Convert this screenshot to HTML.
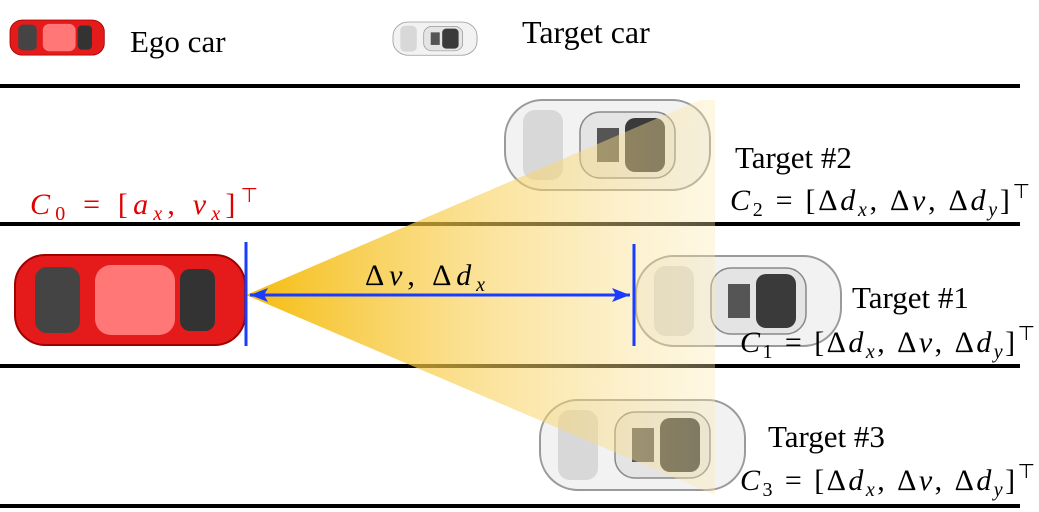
<!DOCTYPE html>
<html><head><meta charset="utf-8"><style>
html,body{margin:0;padding:0;background:#fff;}
svg{display:block;}
text{font-family:"Liberation Serif",serif;}
</style></head><body>
<svg width="1039" height="512" viewBox="0 0 1039 512">
<defs>
<linearGradient id="cone" x1="246" y1="0" x2="715" y2="0" gradientUnits="userSpaceOnUse">
<stop offset="0" stop-color="#f5b800" stop-opacity="0.95"/>
<stop offset="0.5" stop-color="#f8cf55" stop-opacity="0.6"/>
<stop offset="1" stop-color="#fbe9b0" stop-opacity="0.35"/>
</linearGradient>
<marker id="ah" markerWidth="20" markerHeight="16" refX="18" refY="7" orient="auto-start-reverse" markerUnits="userSpaceOnUse"><path d="M0,0 L18,7 L0,14 L4,7 z" fill="#1a3cff"/></marker>
<g id="whitecar">
<rect x="0" y="0" width="205" height="90" rx="38" fill="#f2f2f2" stroke="#9a9a9a" stroke-width="2"/>
<rect x="18" y="10" width="40" height="70" rx="12" fill="#d8d8d8"/>
<rect x="75" y="12" width="95" height="66" rx="20" fill="#e4e4e4" stroke="#888" stroke-width="1.5"/>
<rect x="120" y="18" width="40" height="54" rx="10" fill="#3a3a3a"/>
<rect x="92" y="28" width="22" height="34" fill="#555"/>
</g>
<g id="redcar">
<rect x="0" y="0" width="230" height="90" rx="30" fill="#e51a1a" stroke="#9e0000" stroke-width="2"/>
<rect x="20" y="12" width="45" height="66" rx="12" fill="#444"/>
<rect x="80" y="10" width="80" height="70" rx="16" fill="#ff7777"/>
<rect x="165" y="14" width="35" height="62" rx="10" fill="#333"/>
</g>
</defs>

<g>
<use href="#redcar" transform="translate(10,20) scale(0.41,0.39)"/>
<text x="130" y="52" font-size="31">Ego car</text>
</g>
<g>
<use href="#whitecar" transform="translate(393,22) scale(0.41,0.37)"/>
<text x="522" y="43" font-size="32">Target car</text>
</g>

<g stroke="#000" stroke-width="4">
<line x1="0" y1="86" x2="1020" y2="86"/>
<line x1="0" y1="224" x2="1020" y2="224"/>
<line x1="0" y1="366" x2="1020" y2="366"/>
<line x1="0" y1="506" x2="1020" y2="506"/>
</g>

<use href="#whitecar" transform="translate(505,100)"/>
<use href="#whitecar" transform="translate(636,256)"/>
<use href="#whitecar" transform="translate(540,400)"/>

<path d="M246,295 L700,100 L715,100 L715,495 Z" fill="url(#cone)"/>

<use href="#redcar" transform="translate(15,255)"/>

<line x1="246" y1="242" x2="246" y2="346" stroke="#1a3cff" stroke-width="3"/>
<line x1="634" y1="244" x2="634" y2="346" stroke="#1a3cff" stroke-width="3"/>
<line x1="250" y1="295" x2="630" y2="295" stroke="#1a3cff" stroke-width="3" marker-start="url(#ah)" marker-end="url(#ah)"/>
<text x="365" y="285" font-size="30" textLength="120" lengthAdjust="spacing">Δ<tspan font-style="italic">v</tspan>, Δ<tspan font-style="italic">d</tspan><tspan font-style="italic" font-size="20" dy="6">x</tspan></text>

<text x="30" y="214" font-size="30" fill="#e00000" textLength="228" lengthAdjust="spacing"><tspan font-style="italic">C</tspan><tspan font-size="20" dy="6">0</tspan><tspan dy="-6"> = [</tspan><tspan font-style="italic">a</tspan><tspan font-style="italic" font-size="20" dy="6">x</tspan><tspan dy="-6">, </tspan><tspan font-style="italic">v</tspan><tspan font-style="italic" font-size="20" dy="6">x</tspan><tspan dy="-6">]</tspan><tspan font-size="20" dy="-12">⊤</tspan></text>

<text x="735" y="168" font-size="31">Target #2</text>
<text x="730" y="210" font-size="30" textLength="300" lengthAdjust="spacing"><tspan font-style="italic">C</tspan><tspan font-size="20" dy="6">2</tspan><tspan dy="-6"> = [Δ</tspan><tspan font-style="italic">d</tspan><tspan font-style="italic" font-size="20" dy="6">x</tspan><tspan dy="-6">, Δ</tspan><tspan font-style="italic">v</tspan><tspan>, Δ</tspan><tspan font-style="italic">d</tspan><tspan font-style="italic" font-size="20" dy="6">y</tspan><tspan dy="-6">]</tspan><tspan font-size="20" dy="-12">⊤</tspan></text>

<text x="852" y="308" font-size="31">Target #1</text>
<text x="740" y="352" font-size="30" textLength="295" lengthAdjust="spacing"><tspan font-style="italic">C</tspan><tspan font-size="20" dy="6">1</tspan><tspan dy="-6"> = [Δ</tspan><tspan font-style="italic">d</tspan><tspan font-style="italic" font-size="20" dy="6">x</tspan><tspan dy="-6">, Δ</tspan><tspan font-style="italic">v</tspan><tspan>, Δ</tspan><tspan font-style="italic">d</tspan><tspan font-style="italic" font-size="20" dy="6">y</tspan><tspan dy="-6">]</tspan><tspan font-size="20" dy="-12">⊤</tspan></text>

<text x="768" y="447" font-size="31">Target #3</text>
<text x="740" y="490" font-size="30" textLength="295" lengthAdjust="spacing"><tspan font-style="italic">C</tspan><tspan font-size="20" dy="6">3</tspan><tspan dy="-6"> = [Δ</tspan><tspan font-style="italic">d</tspan><tspan font-style="italic" font-size="20" dy="6">x</tspan><tspan dy="-6">, Δ</tspan><tspan font-style="italic">v</tspan><tspan>, Δ</tspan><tspan font-style="italic">d</tspan><tspan font-style="italic" font-size="20" dy="6">y</tspan><tspan dy="-6">]</tspan><tspan font-size="20" dy="-12">⊤</tspan></text>
</svg>
</body></html>
